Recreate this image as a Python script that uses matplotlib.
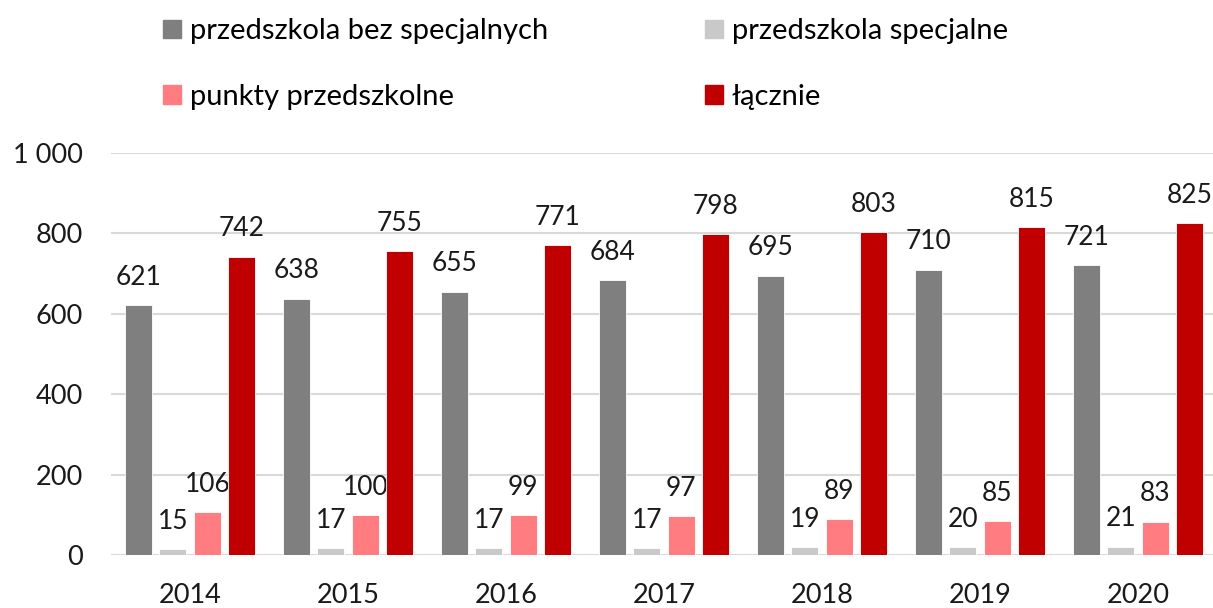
import numpy as np
import matplotlib.pyplot as plt
from matplotlib.patches import Patch

years = ["2014", "2015", "2016", "2017", "2018", "2019", "2020"]
przedszkola = [621, 638, 655, 684, 695, 710, 721]
specjalne = [15, 17, 17, 17, 19, 20, 21]
punkty = [106, 100, 99, 97, 89, 85, 83]
lacznie = [742, 755, 771, 798, 803, 815, 825]

series = [
    ("przedszkola bez specjalnych", przedszkola, "#7F7F7F"),
    ("przedszkola specjalne", specjalne, "#C9C9C9"),
    ("punkty przedszkolne", punkty, "#FF7C80"),
    ("łącznie", lacznie, "#C00000"),
]

plt.rcParams["font.family"] = ["Lato", "DejaVu Sans"]
FS = 19.5
LEG_FS = 21

W, H = 1213, 608
fig = plt.figure(figsize=(W / 100, H / 100), dpi=100)
ax = fig.add_axes([111 / W, 53 / H, (1217 - 111) / W, 402 / H])

x = np.arange(len(years))
step = 0.219
width = 0.172
for i, (name, vals, color) in enumerate(series):
    pos = x + (i - 1.5) * step
    ax.bar(pos, vals, width, color=color, edgecolor="white", linewidth=0.6,
           label=name, zorder=3)
    for p, v in zip(pos, vals):
        ax.annotate(str(v), (p, v), xytext=(0, 11), textcoords="offset points",
                    ha="center", va="bottom", fontsize=19, color="#1a1a1a")

ax.set_xlim(-0.5, 6.5)
ax.set_ylim(0, 1000)
ax.set_yticks([0, 200, 400, 600, 800, 1000])
ax.set_yticklabels(["0", "200", "400", "600", "800", "1 000"])
ax.set_xticks(x)
ax.set_xticklabels(years)
ax.tick_params(axis="both", length=0, labelsize=FS, colors="#1a1a1a")
ax.tick_params(axis="y", pad=20)
ax.tick_params(axis="x", pad=20.5)
ax.grid(axis="y", color="#D9D9D9", linewidth=1.5, zorder=0)
for s in ax.spines.values():
    s.set_visible(False)

# legend fills columns first, so reorder to get row-wise layout
order = [0, 2, 1, 3]
handles = [Patch(color=series[k][2]) for k in order]
labels = [series[k][0] for k in order]
fig.legend(handles, labels, ncol=2, loc="upper left",
           bbox_to_anchor=(137 / W, 1.013), frameon=False, fontsize=LEG_FS,
           handlelength=0.6, handleheight=0.6, handletextpad=0.3,
           labelspacing=1.35, columnspacing=5.4)

fig.savefig("out.png", dpi=100)
